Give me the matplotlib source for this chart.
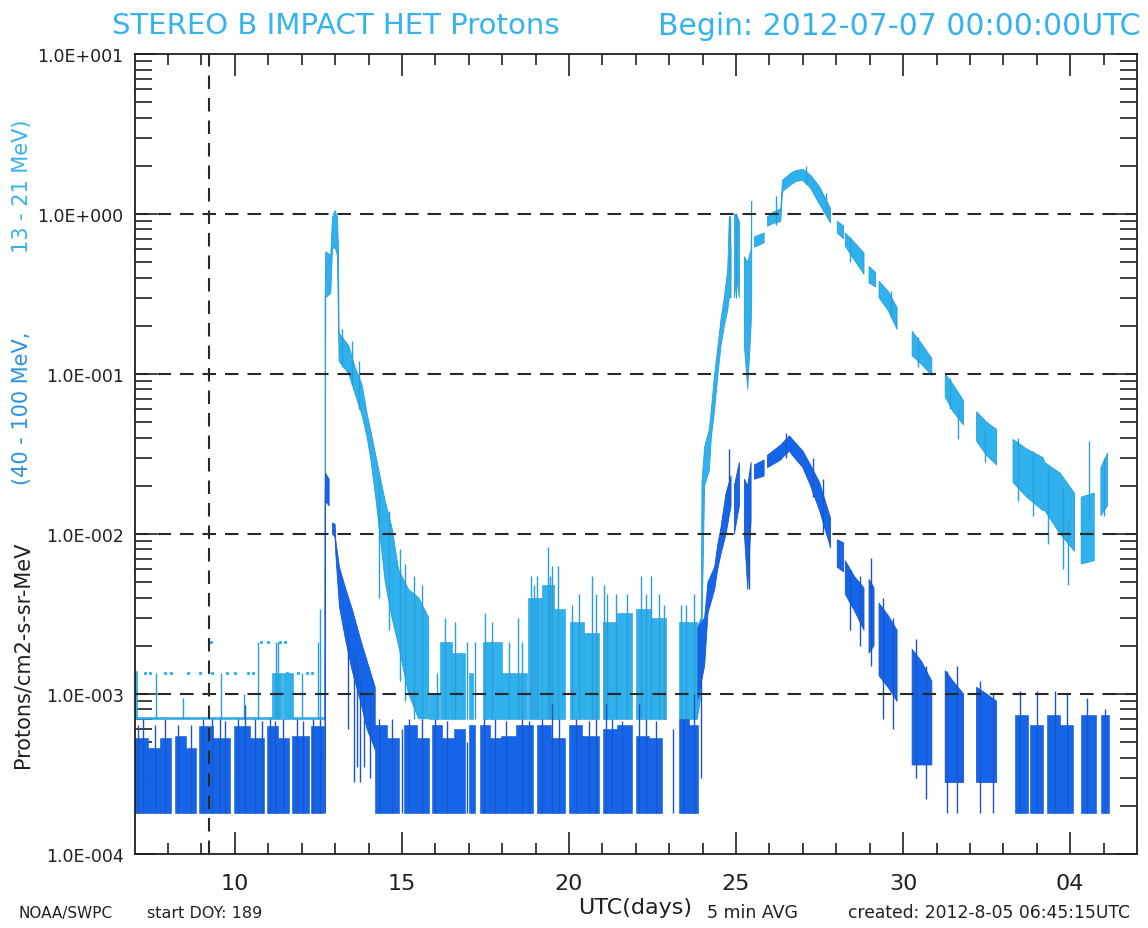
import numpy as np
import matplotlib
matplotlib.use("Agg")
import matplotlib.pyplot as plt
from matplotlib.ticker import FixedLocator, FuncFormatter, LogLocator, NullFormatter

nan = np.nan

# ---------------- data (x = day of July 2012; 32 = Aug 1) ----------------
x_tick_pos = [10, 15, 20, 25, 30, 35]
x_tick_labels = ["10", "15", "20", "25", "30", "04"]
y_tick_pos = [1e-4, 1e-3, 1e-2, 1e-1, 1e0, 1e1]
grid_levels = [1e0, 1e-1, 1e-2, 1e-3]
marker_day = 9.22

# 13-21 MeV (light blue) quiet-time blocks, base level 7e-4
p13_base = 7.0e-4
p13_bg_start = [7.00, 7.08, 11.10, 11.45, 11.75, 15.80, 16.15, 16.50, 17.00, 17.44, 17.99, 18.78, 19.20, 19.55,
                20.02, 20.45, 21.01, 21.45, 22.00, 22.45, 23.29]
p13_bg_end   = [7.08, 11.10, 11.40, 11.75, 12.70, 16.10, 16.50, 16.90, 17.14, 17.99, 18.73, 19.20, 19.55, 19.87,
                20.45, 20.91, 21.45, 21.90, 22.45, 22.90, 23.84]
p13_bg_top   = [1.4e-3, 7.2e-4, 1.35e-3, 1.35e-3, 7.2e-4, 1.0e-3, 2.1e-3, 1.8e-3, 1.35e-3, 2.1e-3, 1.35e-3, 4.0e-3, 4.8e-3, 3.4e-3,
                2.8e-3, 2.4e-3, 2.8e-3, 3.2e-3, 3.4e-3, 3.0e-3, 2.8e-3]
p13_spike_t = [7.65, 8.45, 9.59, 10.28, 10.68, 11.22, 11.30, 12.00, 12.50, 12.55,
               16.05, 16.30, 16.60, 16.95, 17.20, 17.50, 17.70, 18.20, 18.47, 18.60, 18.85, 18.95, 19.05, 19.36,
               19.42, 19.48, 19.67, 20.10, 20.30, 20.70, 20.80, 21.05, 21.15, 21.40, 21.75, 22.15, 22.30, 22.45,
               22.70, 22.85, 23.35, 23.50, 23.75]
p13_spike_v = [1.35e-3, 9.5e-4, 1.35e-3, 1.0e-3, 2.1e-3, 2.1e-3, 2.1e-3, 1.35e-3, 2.1e-3, 3.4e-3,
               1.35e-3, 3.0e-3, 2.8e-3, 2.1e-3, 2.1e-3, 3.2e-3, 2.8e-3, 2.1e-3, 3.0e-3, 2.1e-3, 5.5e-3, 4.8e-3, 5.5e-3, 8.3e-3,
               5.5e-3, 6.3e-3, 6.3e-3, 3.6e-3, 4.2e-3, 5.5e-3, 4.2e-3, 4.8e-3, 4.2e-3, 4.2e-3, 4.2e-3, 5.5e-3, 4.2e-3, 5.5e-3,
               4.2e-3, 3.6e-3, 3.6e-3, 3.6e-3, 4.2e-3]
p13_dot_t = [7.30, 7.45, 7.90, 8.10, 8.60, 8.95, 9.28, 9.30, 9.75, 10.00, 10.40, 10.55, 10.77,
             11.00, 11.35, 11.50, 11.55, 11.90, 12.15, 12.30]
p13_dot_v = [1.35e-3, 1.35e-3, 1.35e-3, 1.35e-3, 1.35e-3, 1.35e-3, 2.1e-3, 1.35e-3, 1.35e-3, 1.35e-3,
             1.35e-3, 1.35e-3, 2.1e-3, 2.1e-3, 2.1e-3, 2.1e-3, 1.35e-3, 1.35e-3, 1.35e-3, 1.35e-3]

# 13-21 MeV event envelopes (NaN = data gap)
p13_ev_t = [12.70, 12.72, 12.87, 12.92, 13.00, 13.07, 13.10, 13.12, 13.41, 13.60, 13.81,
            13.96, 14.06, 14.23, 14.50, 14.70, 14.90, 15.20, 15.50, 15.80, nan,
            23.84, 23.96, 23.98, 24.06, 24.20, 24.26, 24.36, 24.46, 24.55, 24.65, 24.75, 24.80, 24.85, nan,
            24.95, 25.02, 25.10, nan, 25.25, 25.35, 25.45, 25.47, nan, 25.55, 25.84, nan,
            25.94, 26.10, 26.34, 26.39, 26.64, 26.80, 27.00, 27.23, 27.50, 27.83, nan,
            28.03, 28.22, nan, 28.27, 28.50, 28.83, nan, 28.98, 29.18, nan, 29.28, 29.55, 29.82, nan,
            30.27, 30.55, 30.86, nan, 31.26, 31.50, 31.81, nan, 32.20, 32.50, 32.80, nan,
            33.29, 33.70, 34.19, 34.24, 34.70, 35.13, nan, 35.33, 35.72, nan, 35.92, 36.12]
p13_ev_lo = [7e-4, 0.30, 0.32, 0.60, 0.62, 0.55, 0.20, 0.12, 0.10, 0.075, 0.055,
             0.040, 0.030, 0.016, 0.005, 0.003, 0.002, 0.0010, 0.0007, 0.0007, nan,
             7e-4, 1e-3, 2.6e-3, 0.020, 0.025, 0.040, 0.060, 0.10, 0.15, 0.20, 0.25, 0.30, 0.30, nan,
             0.30, 0.40, 0.30, nan, 0.15, 0.08, 0.20, 0.30, nan, 0.62, 0.66, nan,
             0.84, 0.87, 0.90, 1.38, 1.52, 1.60, 1.62, 1.45, 1.15, 0.88, nan,
             0.76, 0.70, nan, 0.63, 0.53, 0.42, nan, 0.37, 0.35, nan, 0.30, 0.25, 0.19, nan,
             0.13, 0.115, 0.098, nan, 0.072, 0.058, 0.048, nan, 0.038, 0.031, 0.027, nan,
             0.021, 0.017, 0.014, 0.014, 0.010, 0.0078, nan, 0.0065, 0.0068, nan, 0.013, 0.015]
p13_ev_hi = [0.30, 0.58, 0.55, 0.95, 1.05, 0.95, 0.60, 0.18, 0.15, 0.11, 0.085,
             0.056, 0.045, 0.030, 0.016, 0.011, 0.006, 0.0045, 0.0040, 0.0030, nan,
             2.6e-3, 3e-3, 0.021, 0.035, 0.045, 0.060, 0.10, 0.15, 0.22, 0.30, 0.45, 0.97, 0.60, nan,
             1.0, 0.98, 0.90, nan, 0.54, 0.50, 0.60, 1.2, nan, 0.72, 0.76, nan,
             0.96, 1.02, 1.08, 1.62, 1.80, 1.87, 1.90, 1.75, 1.48, 1.08, nan,
             0.90, 0.84, nan, 0.76, 0.68, 0.57, nan, 0.47, 0.43, nan, 0.38, 0.33, 0.26, nan,
             0.185, 0.155, 0.125, nan, 0.10, 0.086, 0.068, nan, 0.058, 0.050, 0.045, nan,
             0.039, 0.034, 0.030, 0.028, 0.024, 0.018, nan, 0.017, 0.018, nan, 0.026, 0.032]
p13_ev_spike_t  = [13.20, 13.50, 13.70, 14.30, 14.60, 14.95, 15.10, 15.35, 15.60, 24.82, 25.00, 26.20, 27.10,
                   27.70, 28.40, 29.65, 30.45, 31.40, 31.65, 32.45, 33.45, 33.90, 34.35, 34.80, 34.95, 35.55, 36.02]
p13_ev_spike_lo = [0.11, 0.085, 0.06, 0.004, 0.0025, 0.0012, 0.0009, 0.0007, 0.0007, 0.40, 0.30, 0.85, 1.55,
                   1.0, 0.50, 0.23, 0.11, 0.060, 0.039, 0.028, 0.016, 0.013, 0.0087, 0.0060, 0.0048, 0.012, 0.013]
p13_ev_spike_hi = [0.19, 0.16, 0.12, 0.022, 0.014, 0.008, 0.0065, 0.0055, 0.0048, 0.97, 1.02, 1.30, 2.00,
                   1.35, 0.72, 0.33, 0.17, 0.095, 0.060, 0.045, 0.040, 0.033, 0.025, 0.020, 0.012, 0.038, 0.030]

# 40-100 MeV (dark blue) quiet-time blocks, base level 1.8e-4
p40_base = 1.8e-4
p40_bg_start = [7.00, 7.40, 7.75, 8.22, 8.55, 8.94, 9.35, 9.98, 10.45, 10.95, 11.30, 11.72, 12.27,
                14.20, 14.55, 15.05, 15.45, 15.90, 16.20, 16.55, 17.02, 17.34, 17.65, 17.95, 18.40, 19.03, 19.45,
                20.00, 20.40, 21.01, 21.45, 22.00, 22.40, 23.29, 23.60,
                33.34, 33.80, 34.30, 34.70, 35.33, 35.93]
p40_bg_end   = [7.40, 7.75, 8.10, 8.55, 8.85, 9.35, 9.84, 10.45, 10.88, 11.30, 11.62, 12.22, 12.66,
                14.55, 14.90, 15.45, 15.80, 16.20, 16.55, 16.90, 17.19, 17.65, 17.95, 18.40, 18.93, 19.45, 19.87,
                20.40, 20.89, 21.45, 21.88, 22.40, 22.78, 23.60, 23.86,
                33.75, 34.20, 34.70, 35.10, 35.78, 36.15]
p40_bg_top   = [5.3e-4, 4.6e-4, 5.3e-4, 5.5e-4, 4.6e-4, 6.3e-4, 5.3e-4, 6.3e-4, 5.3e-4, 6.3e-4, 5.3e-4, 5.5e-4, 6.3e-4,
                6.4e-4, 5.3e-4, 6.4e-4, 5.3e-4, 6.4e-4, 5.3e-4, 6.0e-4, 6.4e-4, 6.4e-4, 5.3e-4, 5.5e-4, 6.4e-4, 6.4e-4, 5.3e-4,
                6.4e-4, 5.5e-4, 6.0e-4, 6.4e-4, 5.5e-4, 5.3e-4, 7.0e-4, 6.4e-4,
                7.4e-4, 6.4e-4, 7.4e-4, 6.4e-4, 7.4e-4, 7.4e-4]
p40_spike_t = [7.10, 7.25, 7.60, 7.90, 8.30, 8.70, 9.05, 9.30, 9.55, 9.70, 10.10, 10.30, 10.60, 10.80, 11.05, 11.20,
               11.45, 11.85, 12.05, 12.35, 12.55, 14.30, 14.70, 15.00, 15.20, 15.60, 16.00, 16.35, 16.95, 17.45,
               17.80, 18.10, 18.60, 18.80, 19.20, 19.50, 19.70, 20.20, 20.60, 20.80, 21.10, 21.30, 21.60, 22.10,
               22.30, 22.60, 23.10, 23.40, 23.75, 33.50, 34.00, 34.55, 34.90, 35.50, 36.05]
p40_spike_v = [6.4e-4, 7.0e-4, 6.4e-4, 7.0e-4, 6.4e-4, 6.4e-4, 7.0e-4, 7.0e-4, 7.0e-4, 6.8e-4, 7.0e-4, 8.5e-4, 7.0e-4, 6.8e-4, 7.0e-4, 6.8e-4,
               7.0e-4, 7.0e-4, 6.8e-4, 7.0e-4, 7.0e-4, 7.0e-4, 7.0e-4, 6.0e-4, 7.0e-4, 7.0e-4, 7.0e-4, 6.8e-4, 5.0e-4, 7.0e-4,
               7.0e-4, 6.8e-4, 7.0e-4, 6.8e-4, 7.0e-4, 8.7e-4, 7.0e-4, 7.0e-4, 6.8e-4, 7.0e-4, 8.7e-4, 7.0e-4, 6.8e-4, 8.7e-4,
               7.0e-4, 6.8e-4, 6.0e-4, 7.0e-4, 1.0e-3, 1.05e-3, 1.05e-3, 1.05e-3, 1.0e-3, 9.5e-4, 8.0e-4]

p40_ev_t = [12.70, 12.71, 12.82, nan, 12.92, 13.00, 13.02, 13.13, 13.31, 13.51, 13.76, 13.96, 14.20, nan,
            23.86, 24.06, 24.16, 24.36, 24.45, 24.55, 24.70, 24.85, nan, 24.95, 25.10, nan,
            25.25, 25.35, 25.45, nan, 25.55, 25.84, nan,
            25.94, 26.34, 26.39, 26.60, 26.69, 27.00, 27.23, 27.50, 27.83, nan,
            28.03, 28.22, nan, 28.27, 28.55, 28.83, nan, 28.98, 29.13, nan, 29.28, 29.55, 29.82, nan,
            30.27, 30.55, 30.86, nan, 31.26, 31.50, 31.81, nan, 32.20, 32.50, 32.80]
p40_ev_lo = [1.8e-4, 0.016, 0.015, nan, 0.010, 0.0095, 0.0075, 0.0035, 0.0022, 0.0014, 0.0009, 0.0006, 0.00045, nan,
             9.3e-4, 1.5e-3, 3.2e-3, 4.5e-3, 6e-3, 7.5e-3, 0.010, 0.015, nan, 0.010, 0.015, nan,
             0.010, 0.0045, 0.012, nan, 0.022, 0.023, nan,
             0.026, 0.029, 0.030, 0.033, 0.031, 0.026, 0.020, 0.014, 0.0082, nan,
             0.0062, 0.0058, nan, 0.0042, 0.0033, 0.0025, nan, 0.0018, 0.0020, nan, 0.0013, 0.0011, 0.0009, nan,
             3.6e-4, 3.6e-4, 3.6e-4, nan, 2.8e-4, 2.8e-4, 2.8e-4, nan, 2.8e-4, 2.8e-4, 2.8e-4]
p40_ev_hi = [0.016, 0.024, 0.022, nan, 0.0117, 0.0115, 0.0091, 0.0062, 0.0046, 0.0034, 0.0022, 0.0016, 0.0011, nan,
             2.6e-3, 3e-3, 5.0e-3, 6.2e-3, 8.5e-3, 0.011, 0.018, 0.023, nan, 0.020, 0.028, nan,
             0.022, 0.020, 0.028, nan, 0.027, 0.029, nan,
             0.031, 0.036, 0.037, 0.041, 0.039, 0.033, 0.027, 0.021, 0.0125, nan,
             0.0092, 0.0088, nan, 0.0068, 0.0054, 0.0046, nan, 0.0052, 0.0046, nan, 0.0037, 0.0031, 0.0025, nan,
             0.0019, 0.0016, 0.0012, nan, 1.4e-3, 1.2e-3, 1.0e-3, nan, 1.1e-3, 1.0e-3, 9.0e-4]
p40_ev_spike_t  = [13.40, 13.55, 13.65, 13.75, 13.85, 14.05, 23.96, 24.80, 25.40, 26.50, 27.30, 27.60, 28.40, 28.70,
                   29.05, 29.40, 29.70, 30.40, 30.70, 31.30, 31.60, 32.30, 32.70]
p40_ev_spike_lo = [6.0e-4, 2.8e-4, 3.5e-4, 2.8e-4, 3.5e-4, 3.0e-4, 3.0e-4, 0.015, 0.0045, 0.030, 0.017, 0.010, 0.0025, 0.0020,
                   0.0015, 7.0e-4, 6.0e-4, 3.0e-4, 2.2e-4, 1.8e-4, 1.8e-4, 1.8e-4, 1.8e-4]
p40_ev_spike_hi = [2.8e-3, 1.8e-3, 1.6e-3, 1.2e-3, 1.0e-3, 9.0e-4, 1.5e-3, 0.034, 0.012, 0.043, 0.030, 0.022, 0.0060, 0.0055,
                   0.0071, 0.0040, 0.0030, 2.2e-3, 1.5e-3, 1.4e-3, 1.5e-3, 1.2e-3, 1.0e-3]

# ---------------- styling ----------------
LIGHT = "#2FB1EE"
LIGHT_EDGE = "#2A9ED8"
DARK = "#1465EA"
DARK_EDGE = "#1A56C8"
TITLE_C = "#35B3EE"
MID_C = "#2A93E2"

plt.rcParams['font.family'] = ['DejaVu Sans']

fig = plt.figure(figsize=(11.48, 9.29), dpi=100)
ax = fig.add_axes([0.1173, 0.0797, 0.8731, 0.8611])
ax.set_yscale('log')
ax.set_xlim(7, 37)
ax.set_ylim(1e-4, 1e1)


def draw_blocks(start, end, top, base, color, edge):
    s = np.asarray(start)
    e = np.asarray(end)
    t = np.asarray(top)
    ax.bar(s, t - base, width=e - s, bottom=base, align='edge', color=color,
           edgecolor=edge, linewidth=0.4, zorder=2)


# light blue first
draw_blocks(p13_bg_start, p13_bg_end, p13_bg_top, p13_base, LIGHT, LIGHT_EDGE)
ax.vlines(p13_spike_t, p13_base, p13_spike_v, color=LIGHT_EDGE, lw=1.0, zorder=2)
ax.plot(p13_dot_t, p13_dot_v, ls='none', marker='s', ms=1.2, color=LIGHT, zorder=2)
ax.fill_between(p13_ev_t, p13_ev_lo, p13_ev_hi, color=LIGHT, edgecolor=LIGHT_EDGE, lw=0.6, zorder=2)
ax.vlines(p13_ev_spike_t, p13_ev_spike_lo, p13_ev_spike_hi, color=LIGHT_EDGE, lw=1.0, zorder=2)

# dark blue on top
draw_blocks(p40_bg_start, p40_bg_end, p40_bg_top, p40_base, DARK, DARK_EDGE)
ax.vlines(p40_spike_t, p40_base, p40_spike_v, color=DARK_EDGE, lw=1.0, zorder=3)
ax.fill_between(p40_ev_t, p40_ev_lo, p40_ev_hi, color=DARK, edgecolor=DARK_EDGE, lw=0.6, zorder=3)
ax.vlines(p40_ev_spike_t, p40_ev_spike_lo, p40_ev_spike_hi, color=DARK_EDGE, lw=1.0, zorder=3)

# dashed reference lines
for lev in grid_levels:
    ax.axhline(lev, color='#282828', lw=1.5, dashes=(6.5, 4.3), zorder=4)
ax.axvline(marker_day, color='#282828', lw=1.5, dashes=(6.5, 4.3), zorder=4)

# axes / ticks
ax.xaxis.set_major_locator(FixedLocator(x_tick_pos))
ax.xaxis.set_minor_locator(FixedLocator(np.arange(8, 37, 1)))
ax.set_xticklabels(x_tick_labels)
ax.yaxis.set_major_locator(FixedLocator(y_tick_pos))
ax.yaxis.set_minor_locator(LogLocator(base=10, subs=np.arange(2, 10), numticks=20))
ax.yaxis.set_minor_formatter(NullFormatter())
ax.yaxis.set_major_formatter(FuncFormatter(lambda v, p: "1.0E%s" % format(int(round(np.log10(v))), '+04d')))

ax.tick_params(axis='x', which='both', direction='in', top=True, bottom=True, width=1.2, colors='#202020')
ax.tick_params(axis='x', which='major', length=16, labelsize=16, pad=14)
ax.tick_params(axis='x', which='minor', length=8)
ax.tick_params(axis='y', which='both', direction='in', left=True, right=True, width=1.2, colors='#202020')
ax.tick_params(axis='y', which='major', length=16, labelsize=12.5, pad=8)
ax.tick_params(axis='y', which='minor', length=12)
for sp in ax.spines.values():
    sp.set_linewidth(1.3)
    sp.set_color('#202020')

# titles and labels
fig.text(0.0976, 0.972, "STEREO B IMPACT HET Protons", color=TITLE_C, fontsize=21, ha='left', va='center')
fig.text(0.993, 0.972, "Begin: 2012-07-07 00:00:00UTC", color=TITLE_C, fontsize=21.5, ha='right', va='center')

ylab_fs = 15
fig.text(0.0192, 0.1733, "Protons/cm2-s-sr-MeV", rotation=90, ha='center', va='bottom', fontsize=ylab_fs, color='#202020')
fig.text(0.0192, 0.478, "(40 - 100 MeV,", rotation=90, ha='center', va='bottom', fontsize=ylab_fs, color=MID_C)
fig.text(0.0192, 0.728, "13 - 21 MeV)", rotation=90, ha='center', va='bottom', fontsize=ylab_fs, color=TITLE_C)

fy = 0.0172
fig.text(0.0157, fy, "NOAA/SWPC", fontsize=11, ha='left', va='center', color='#202020')
fig.text(0.128, fy, "start DOY: 189", fontsize=11.5, ha='left', va='center', color='#202020')
fig.text(0.5035, fy + 0.005, "UTC(days)", fontsize=16, ha='left', va='center', color='#202020')
fig.text(0.616, fy, "5 min AVG", fontsize=12.5, ha='left', va='center', color='#202020')
fig.text(0.739, fy, "created: 2012-8-05 06:45:15UTC", fontsize=12.3, ha='left', va='center', color='#202020')

fig.savefig("out.png", dpi=100, facecolor='white')
